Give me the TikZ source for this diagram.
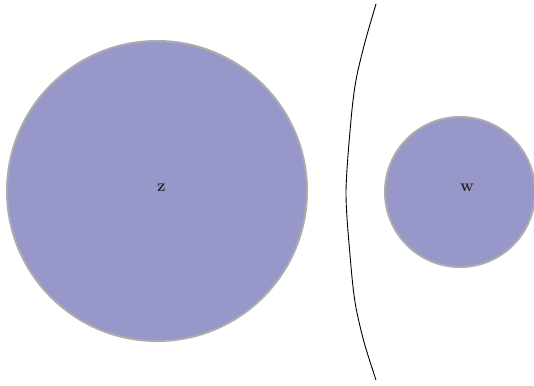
\documentclass[tikz,border=0pt]{standalone}
\usepackage{xcolor}
\usetikzlibrary{positioning}

\definecolor{discfill}{RGB}{151,151,201}
\definecolor{discedge}{RGB}{172,172,172}

\begin{document}
\begin{tikzpicture}[
        x=1pt, y=-1pt,
        % Estilo para los discos
        disc/.style={
            circle,
            draw=discedge,
            line width=2pt,
            fill=discfill,
            inner sep=0pt
        },
        % Estilo para las etiquetas
        tag/.style={
            inner sep=0pt,
            anchor=west,
            text=black!85,
            font=\fontsize{17}{20}\selectfont\bfseries
        },
        % Estilo para la curva frontera
        border/.style={
            black,
            line width=0.9pt
        }
    ]
        \useasboundingbox (0,0) rectangle (534,385);

        % Discos
        \node[disc, minimum size=300pt] (z) at (157,191) {};
        \node[disc, minimum size=150pt] (w) at (460,192) {};

        % Etiquetas
        \node[tag] (zlabel) at ([yshift=3pt]z.center) {z};
        \node[tag] (wlabel) at ([yshift=4pt]w.center) {w};

        % Curva entre los discos
        \draw[border] plot[smooth, tension=0.5] coordinates {
            (376,4) (365,42) (356,80) (351,120) (346,192)
            (350,255) (355,302) (364,342) (376,380)};

\end{tikzpicture}
\end{document}
